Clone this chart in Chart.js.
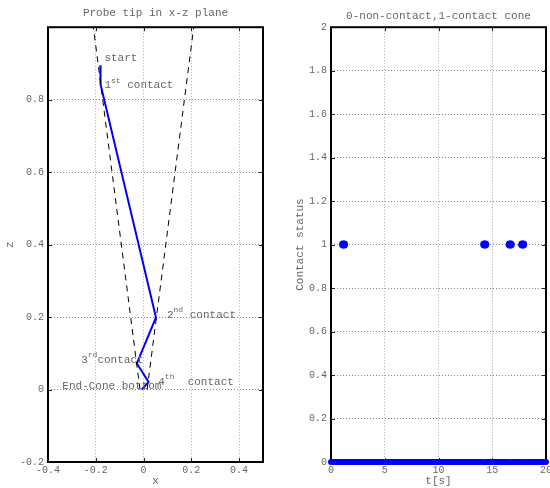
<!DOCTYPE html>
<html>
<head>
<meta charset="utf-8">
<script src="https://cdn.jsdelivr.net/npm/chart.js@4.4.1/dist/chart.umd.min.js"></script>
<style>
  body { margin: 0; background: #fff; }
  canvas { position: absolute; top: 0; }
  #left { left: 0; }
  #right { left: 275px; }
</style>
</head>
<body>
<canvas id="left" width="275" height="488"></canvas>
<canvas id="right" width="275" height="488"></canvas>
<script>
// probe tip path (x, z)
var pathX = [-0.181, -0.180, 0.052, -0.028, 0.021, -0.007]
var pathZ = [0.895, 0.842, 0.199, 0.072, 0.021, 0.0]

// cone walls, bottom -> top
var coneZ = [0, 1.0]
var coneLeftX = [-0.015, -0.21]
var coneRightX = [0.015, 0.21]

var xTicksLeft = [-0.4, -0.2, 0, 0.2, 0.4]
var zTicks = [-0.2, 0, 0.2, 0.4, 0.6, 0.8]

// contact status over time
var tContact = [1.12, 1.22, 14.25, 14.35, 16.62, 16.72, 17.78, 17.88]
var contactVal = [1, 1, 1, 1, 1, 1, 1, 1]
var tFreeStart = [0, 1.25, 14.4, 16.78, 17.93]
var tFreeEnd = [1.1, 14.2, 16.58, 17.74, 20]

var tTicks = [0, 5, 10, 15, 20]
var statusTicks = [0, 0.2, 0.4, 0.6, 0.8, 1, 1.2, 1.4, 1.6, 1.8, 2]

// text labels on the path
var notes = [
  { x: -0.164, z: 0.914, parts: [['start']] },
  { x: -0.164, z: 0.839, parts: [['1'], ['st', 1], [' contact']] },
  { x: 0.098, z: 0.205, parts: [['2'], ['nd', 1], [' contact']] },
  { x: -0.261, z: 0.081, parts: [['3'], ['rd', 1], ['contact']] },
  { x: 0.0615, z: 0.021, parts: [['4'], ['th', 1], ['  contact']] },
  { x: -0.340, z: 0.009, parts: [['End-Cone bottom']] }
]

Chart.defaults.font.family = "'Liberation Mono', 'DejaVu Sans Mono', monospace"
Chart.defaults.color = '#666'

function pts(xs, ys) {
  return xs.map((x, i) => ({ x: x, y: ys[i] }))
}

// box round the plot + small inward ticks
var boxPlugin = {
  id: 'box',
  beforeDatasetsDraw(chart) {
    var a = chart.chartArea, ctx = chart.ctx
    var sx = chart.scales.x, sy = chart.scales.y
    ctx.save()
    ctx.strokeStyle = '#222'
    ctx.lineWidth = 1
    ctx.beginPath()
    sx.ticks.forEach(t => {
      var p = Math.round(sx.getPixelForValue(t.value)) + 0.5
      ctx.moveTo(p, a.bottom); ctx.lineTo(p, a.bottom - 4)
      ctx.moveTo(p, a.top); ctx.lineTo(p, a.top + 4)
    })
    sy.ticks.forEach(t => {
      var p = Math.round(sy.getPixelForValue(t.value)) + 0.5
      ctx.moveTo(a.left, p); ctx.lineTo(a.left + 4, p)
      ctx.moveTo(a.right, p); ctx.lineTo(a.right - 4, p)
    })
    ctx.stroke()
    ctx.lineWidth = 2
    ctx.strokeStyle = '#000'
    ctx.strokeRect(a.left, a.top, a.right - a.left, a.bottom - a.top)
    ctx.restore()
  }
}

var notesPlugin = {
  id: 'notes',
  afterDatasetsDraw(chart) {
    var ctx = chart.ctx
    var sx = chart.scales.x, sy = chart.scales.y
    ctx.save()
    ctx.fillStyle = '#666'
    ctx.textBaseline = 'middle'
    ctx.textAlign = 'left'
    notes.forEach(n => {
      var px = sx.getPixelForValue(n.x)
      var py = sy.getPixelForValue(n.z)
      n.parts.forEach(p => {
        ctx.font = (p[1] ? '8px' : '11px') + " 'Liberation Mono', monospace"
        ctx.fillText(p[0], px, p[1] ? py - 5 : py)
        px += ctx.measureText(p[0]).width
      })
    })
    ctx.restore()
  }
}

function fixedTicks(list) {
  return function(s) { s.ticks = list.map(v => ({ value: v })) }
}

function xScale(min, max, list, title) {
  return {
    type: 'linear', min: min, max: max,
    afterBuildTicks: fixedTicks(list),
    afterFit: s => { s.height = 26; s.paddingLeft = 0; s.paddingRight = 0 },
    grid: { color: '#aaa', drawTicks: false },
    border: { display: false, dash: [1, 2] },
    ticks: { padding: 2, font: { size: 10 }, maxRotation: 0, autoSkip: false, callback: v => String(v) },
    title: { display: true, text: title, padding: { top: 0, bottom: 0 }, font: { size: 11 } }
  }
}

function yScale(min, max, list, title, width, titlePad) {
  return {
    type: 'linear', min: min, max: max,
    afterBuildTicks: fixedTicks(list),
    afterFit: s => { s.width = width; s.paddingTop = 0; s.paddingBottom = 0 },
    grid: { color: '#888', drawTicks: false },
    border: { display: false, dash: [1, 2] },
    ticks: { padding: 4, font: { size: 10 }, autoSkip: false, callback: v => String(v) },
    title: { display: true, text: title, padding: { top: titlePad, bottom: 0 }, font: { size: 11 } }
  }
}

new Chart(document.getElementById('left'), {
  type: 'scatter',
  data: {
    datasets: [
      { data: pts(coneLeftX, coneZ), showLine: true, borderColor: '#000', borderWidth: 1, borderDash: [6, 5], pointRadius: 0 },
      { data: pts(coneRightX, coneZ), showLine: true, borderColor: '#000', borderWidth: 1, borderDash: [6, 5], pointRadius: 0 },
      { data: pts(pathX, pathZ), showLine: true, borderColor: '#0000ff', borderWidth: 2, pointRadius: 0 }
    ]
  },
  options: {
    responsive: false,
    animation: false,
    layout: { padding: { left: 0, right: 12, top: 0, bottom: 0 } },
    plugins: {
      legend: { display: false },
      tooltip: { enabled: false },
      title: { display: true, fullSize: false, text: 'Probe tip in x-z plane', color: '#666', font: { size: 11, weight: 'normal' }, padding: { top: 6, bottom: 8 } }
    },
    scales: {
      x: xScale(-0.4, 0.5, xTicksLeft, 'x'),
      y: yScale(-0.2, 1.0, zTicks, 'z', 48, 3)
    }
  },
  plugins: [boxPlugin, notesPlugin]
})

var freeData = []
tFreeStart.forEach((t, i) => {
  freeData.push({ x: t, y: 0 })
  freeData.push({ x: tFreeEnd[i], y: 0 })
  freeData.push({ x: tFreeEnd[i], y: null })
})

new Chart(document.getElementById('right'), {
  type: 'scatter',
  data: {
    datasets: [
      { data: freeData, showLine: true, spanGaps: false, borderColor: '#0000ff', borderWidth: 6, borderCapStyle: 'round', pointRadius: 0, clip: false },
      { data: pts(tContact, contactVal), backgroundColor: '#0000ff', pointRadius: 4, pointBorderWidth: 0, clip: false }
    ]
  },
  options: {
    responsive: false,
    animation: false,
    layout: { padding: { left: 0, right: 3, top: 0, bottom: 0 } },
    plugins: {
      legend: { display: false },
      tooltip: { enabled: false },
      title: { display: true, fullSize: false, text: '0-non-contact,1-contact cone', color: '#666', font: { size: 11, weight: 'normal' }, padding: { top: 9, bottom: 5 } }
    },
    scales: {
      x: xScale(0, 20, tTicks, 't[s]'),
      y: yScale(0, 2, statusTicks, 'Contact status', 56, 18)
    }
  },
  plugins: [boxPlugin]
})
</script>
</body>
</html>
